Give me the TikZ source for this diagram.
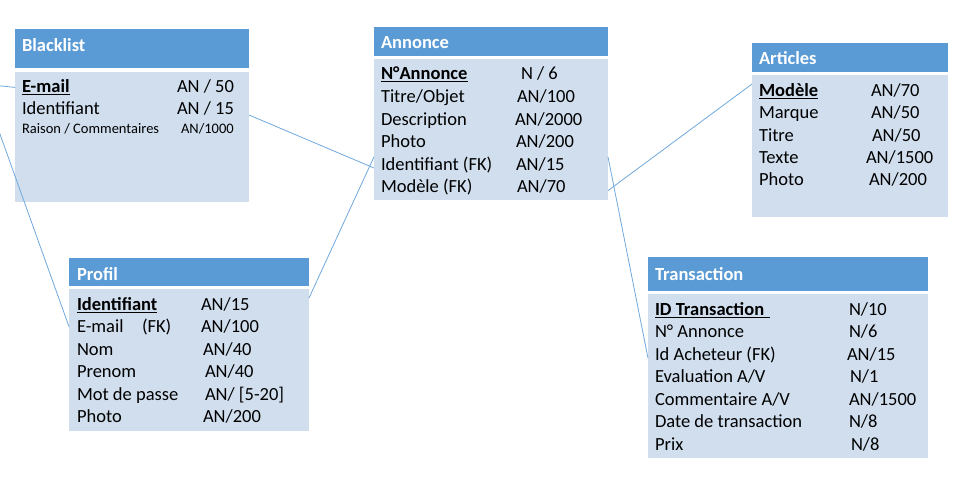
\documentclass[tikz,border=0pt]{standalone}
\usepackage{fontspec}
\setmainfont{Carlito}
\definecolor{hdr}{HTML}{5B9BD5}
\definecolor{bdy}{HTML}{D0DEEE}
\definecolor{lnk}{HTML}{6FA8DC}
\newcommand\ulx[2][0pt]{\setbox0\hbox{#2}\rlap{\rule[-1.8pt]{\dimexpr\wd0+#1\relax}{1.2pt}}\box0}
\begin{document}
\begin{tikzpicture}[x=1pt,y=-1pt,
  boxbase/.style={anchor=north west, inner sep=0pt, outer sep=0pt, draw=none},
  hbox/.style={boxbase, fill=hdr},
  bbox/.style={boxbase, fill=bdy},
  txt/.style={anchor=base west, inner sep=0pt, outer sep=0pt, font=\fontsize{18.5}{22}\selectfont},
  smalltxt/.style={txt, font=\fontsize{14.5}{17}\selectfont},
  htxt/.style={txt, text=white, font=\fontsize{18.5}{22}\selectfont\bfseries},
  link/.style={draw=lnk, line width=0.8pt}]
\useasboundingbox (0,0) rectangle (978,478);

% Blacklist
\node[hbox, minimum width=234pt, minimum height=39pt] (blh) at (15,29) {};
\node[bbox, minimum width=234pt, minimum height=130pt] (blb) at (15,72) {};
\node[htxt] (blt) at (22,52) {Blacklist};
\node[txt] (bl1) at (22,93) {\ulx{\bfseries E-mail}};
\node[txt] (bl1v) at (177,93) {AN / 50};
\node[txt] (bl2) at (22,115) {Identifiant};
\node[txt] (bl2v) at (177,115) {AN / 15};
\node[smalltxt] (bl3) at (22,134) {Raison / Commentaires};
\node[smalltxt] (bl3v) at (181,134) {AN/1000};

% Annonce
\node[hbox, minimum width=234pt, minimum height=29pt] (anh) at (374,27) {};
\node[bbox, minimum width=234pt, minimum height=141pt] (anb) at (374,59) {};
\node[htxt] (ant) at (381,49) {Annonce};
\node[txt] (an1) at (381,80) {\ulx{\bfseries N°Annonce}};
\node[txt] (an1v) at (521,80) {N / 6};
\node[txt] (an2) at (381,102.6) {Titre/Objet};
\node[txt] (an2v) at (517,102.6) {AN/100};
\node[txt] (an3) at (381,125.2) {Description};
\node[txt] (an3v) at (515,125.2) {AN/2000};
\node[txt] (an4) at (381,147.8) {Photo};
\node[txt] (an4v) at (516,147.8) {AN/200};
\node[txt] (an5) at (381,170.4) {Identifiant (FK)};
\node[txt] (an5v) at (516,170.4) {AN/15};
\node[txt] (an6) at (381,193) {Modèle (FK)};
\node[txt] (an6v) at (517,193) {AN/70};

% Articles
\node[hbox, minimum width=196pt, minimum height=29pt] (arh) at (752,43) {};
\node[bbox, minimum width=196pt, minimum height=142pt] (arb) at (752,75) {};
\node[htxt] (art) at (759,65) {Articles};
\node[txt] (ar1) at (759,97) {\ulx{\bfseries Modèle}};
\node[txt] (ar1v) at (871,97) {AN/70};
\node[txt] (ar2) at (759,119) {Marque};
\node[txt] (ar2v) at (871,119) {AN/50};
\node[txt] (ar3) at (759,141.5) {Titre};
\node[txt] (ar3v) at (872,141.5) {AN/50};
\node[txt] (ar4) at (759,163.5) {Texte};
\node[txt] (ar4v) at (866,163.5) {AN/1500};
\node[txt] (ar5) at (759,186) {Photo};
\node[txt] (ar5v) at (869,186) {AN/200};

% Profil
\node[hbox, minimum width=240pt, minimum height=28pt] (prh) at (69,258) {};
\node[bbox, minimum width=240pt, minimum height=142pt] (prb) at (69,289) {};
\node[htxt] (prt) at (77,281) {Profil};
\node[txt] (pr1) at (77,311) {\ulx{\bfseries Identifiant}};
\node[txt] (pr1v) at (201,311) {AN/15};
\node[txt] (pr2) at (77,333) {E-mail};
\node[txt] (pr2b) at (142,333) {(FK)};
\node[txt] (pr2v) at (201,333) {AN/100};
\node[txt] (pr3) at (77,355.5) {Nom};
\node[txt] (pr3v) at (203,355.5) {AN/40};
\node[txt] (pr4) at (77,378) {Prenom};
\node[txt] (pr4v) at (205,378) {AN/40};
\node[txt] (pr5) at (77,400.5) {Mot de passe};
\node[txt] (pr5v) at (205,400.5) {AN/ [5-20]};
\node[txt] (pr6) at (77,423) {Photo};
\node[txt] (pr6v) at (203,423) {AN/200};

% Transaction
\node[hbox, minimum width=280pt, minimum height=34pt] (trh) at (648,257) {};
\node[bbox, minimum width=280pt, minimum height=164pt] (trb) at (648,294) {};
\node[htxt] (trt) at (655,281) {Transaction};
\node[txt] (tr1) at (655,316) {\ulx[6pt]{\bfseries ID Transaction}};
\node[txt] (tr1v) at (849,316) {N/10};
\node[txt] (tr2) at (655,338) {N° Annonce};
\node[txt] (tr2v) at (849,338) {N/6};
\node[txt] (tr3) at (655,360.5) {Id Acheteur (FK)};
\node[txt] (tr3v) at (847,360.5) {AN/15};
\node[txt] (tr4) at (655,383) {Evaluation A/V};
\node[txt] (tr4v) at (850,383) {N/1};
\node[txt] (tr5) at (655,405.5) {Commentaire A/V};
\node[txt] (tr5v) at (849,405.5) {AN/1500};
\node[txt] (tr6) at (655,428) {Date de transaction};
\node[txt] (tr6v) at (849,428) {N/8};
\node[txt] (tr7) at (655,450) {Prix};
\node[txt] (tr7v) at (851,450) {N/8};

% Connectors
\coordinate (bend) at (-18,84);
\draw[link] (blb.west |- bl1.center) -- (bend) -- (prb.west |- pr2.center);
\draw[link] (blb.east |- bl2.base) -- (anb.west |- an5.mid);
\draw[link] (prb.east |- pr1.north) -- (anb.west |- an5.north);
\draw[link] (anb.east |- an6.mid) -- (arb.west |- ar1.north);
\draw[link] (anb.east |- an5.north) -- (trb.west |- tr3.mid);
\end{tikzpicture}
\end{document}
